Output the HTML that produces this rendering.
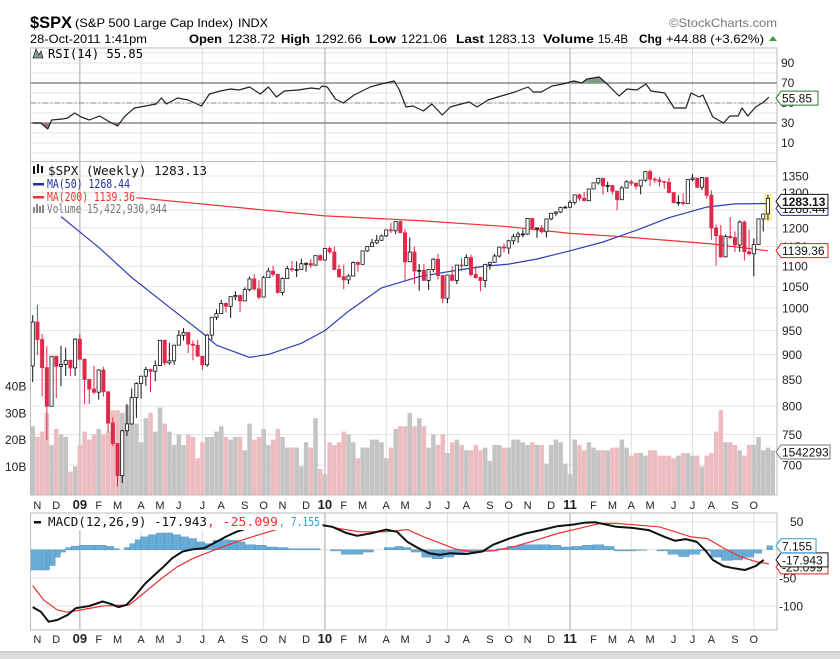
<!DOCTYPE html>
<html><head><meta charset="utf-8"><style>
body{margin:0;background:#fff;}
svg{display:block;font-family:"Liberation Sans",sans-serif;}
.ax{font-size:12px;fill:#222;}
.lg{font-family:"DejaVu Sans Mono","Liberation Mono",monospace;font-size:12px;}
</style></head><body>
<svg id="chart" width="840" height="659" viewBox="0 0 840 659" xmlns="http://www.w3.org/2000/svg">
<rect x="0" y="0" width="840" height="659" fill="#fff"/>
<g>
<text x="30" y="28" font-size="17" font-weight="bold" textLength="42" lengthAdjust="spacingAndGlyphs">$SPX</text>
<text x="75" y="27" font-size="12" textLength="158" lengthAdjust="spacingAndGlyphs">(S&amp;P 500 Large Cap Index)</text>
<text x="238" y="27" font-size="12" textLength="30" lengthAdjust="spacingAndGlyphs">INDX</text>
<text x="669" y="27" font-size="12" fill="#777" textLength="108" lengthAdjust="spacingAndGlyphs">©StockCharts.com</text>
<text x="30" y="43" font-size="12" textLength="117" lengthAdjust="spacingAndGlyphs">28-Oct-2011 1:41pm</text>
<text x="189" y="43" font-size="12" font-weight="bold" textLength="33" lengthAdjust="spacingAndGlyphs">Open</text>
<text x="228" y="43" font-size="12" textLength="47" lengthAdjust="spacingAndGlyphs">1238.72</text>
<text x="281" y="43" font-size="12" font-weight="bold" textLength="29" lengthAdjust="spacingAndGlyphs">High</text>
<text x="315" y="43" font-size="12" textLength="47" lengthAdjust="spacingAndGlyphs">1292.66</text>
<text x="369" y="43" font-size="12" font-weight="bold" textLength="27" lengthAdjust="spacingAndGlyphs">Low</text>
<text x="401" y="43" font-size="12" textLength="46" lengthAdjust="spacingAndGlyphs">1221.06</text>
<text x="456" y="43" font-size="12" font-weight="bold" textLength="28" lengthAdjust="spacingAndGlyphs">Last</text>
<text x="488" y="43" font-size="12" textLength="47" lengthAdjust="spacingAndGlyphs">1283.13</text>
<text x="543" y="43" font-size="12" font-weight="bold" textLength="51" lengthAdjust="spacingAndGlyphs">Volume</text>
<text x="598" y="43" font-size="12" textLength="30" lengthAdjust="spacingAndGlyphs">15.4B</text>
<text x="639" y="43" font-size="12" font-weight="bold" textLength="23" lengthAdjust="spacingAndGlyphs">Chg</text>
<text x="666" y="43" font-size="12" textLength="98" lengthAdjust="spacingAndGlyphs">+44.88 (+3.62%)</text>
<polygon points="769,41 777,41 773,36" fill="#3a9a3a"/>
</g>
<g id="grid"></g>
<g id="marks"></g>
<g id="over"></g>
</svg>
<script>
// ---- data ----
const opens=[876.8,968.8,931,873.3,800,896.2,876.1,879.7,887.9,872.8,931.8,890.4,850.1,832,825.9,868.6,826.8,770,735.1,683.4,756.6,768.5,815.9,842.5,856.6,869.6,866.2,877.5,929.2,882.9,887,919.1,940.1,946.2,921.2,918.9,896.4,879.1,940.4,979.3,987.5,1010.5,1004.1,1026.1,1028.9,1016.4,1042.7,1068.3,1044.4,1025.2,1071.5,1087.7,1079.6,1036.2,1069.3,1093.5,1091.4,1091.5,1106,1106.4,1102.5,1126.5,1115.1,1145,1136,1091.8,1073.9,1066.2,1075.5,1109.2,1104.5,1138.7,1150,1159.9,1166.6,1178.1,1194.4,1192.1,1217.3,1186.7,1110.9,1135.7,1087.7,1089.4,1064.9,1091.6,1117.5,1076.8,1022.6,1078,1064.9,1102.7,1101.6,1121.6,1079.3,1071.7,1064.6,1104.5,1109.6,1125.6,1148.7,1146.2,1165.2,1176.2,1183.1,1183.3,1225.9,1199.2,1199.7,1189.4,1224.7,1240.4,1243.9,1256.8,1257.6,1271.5,1293.2,1283.4,1276.3,1310.9,1329.2,1343,1319.9,1321.2,1304.3,1279.2,1313.8,1332.4,1328.2,1319.7,1337.4,1363.6,1340.2,1337.8,1333.3,1331.1,1300.2,1271,1271.5,1268.5,1339.7,1343.8,1316.1,1345,1292.3,1199.4,1178.8,1123.5,1176.8,1174,1154.2,1216,1136.4,1131.4,1155.5,1224.6,1238.7];
const closes=[968.75,930.99,873.29,800.03,896.24,876.07,879.73,887.88,872.8,931.8,890.35,850.12,831.95,825.88,868.6,826.84,770.05,735.09,683.38,756.55,768.54,815.94,842.5,856.56,869.6,866.23,877.52,929.23,882.88,887,919.14,940.09,946.21,921.23,918.9,896.42,879.13,940.38,979.26,987.48,1010.48,1004.09,1026.13,1028.93,1016.4,1042.73,1068.3,1044.38,1025.21,1071.49,1087.68,1079.6,1036.19,1069.3,1093.48,1091.38,1091.49,1105.98,1106.41,1102.47,1126.48,1115.1,1144.98,1136.03,1091.76,1073.87,1066.19,1075.51,1109.17,1104.49,1138.7,1149.99,1159.9,1166.59,1178.1,1194.37,1192.13,1217.28,1186.69,1110.88,1135.68,1087.69,1089.41,1064.88,1091.6,1117.51,1076.76,1022.58,1077.96,1064.88,1102.66,1101.6,1121.64,1079.25,1071.69,1064.59,1104.51,1109.55,1125.59,1148.67,1146.24,1165.15,1176.19,1183.08,1183.26,1225.85,1199.21,1199.73,1189.4,1224.71,1240.4,1243.91,1256.77,1257.64,1271.5,1293.24,1283.35,1276.34,1310.87,1329.15,1343.01,1319.88,1321.15,1304.28,1279.2,1313.8,1332.41,1328.17,1319.68,1337.38,1363.61,1340.2,1337.77,1333.27,1331.1,1300.16,1270.98,1271.5,1268.45,1339.67,1343.8,1316.14,1345.02,1292.28,1199.38,1178.81,1123.53,1176.8,1173.97,1154.23,1216.01,1136.43,1131.42,1155.46,1224.58,1238.25,1283.13];
const highs=[984,1007,943,917,896,897,918,914,890,934,943,890,851,877,870,875,827,780,735,758,804,833,845,857,875,871,888,930,931,924,920,951,956,946,929,931,896,943,980,997,1019,1013,1027,1039,1031,1048,1074,1080,1065,1076,1096,1101,1081,1072,1101,1113,1112,1119,1110,1118,1127,1130,1145,1150,1150,1104,1104,1080,1112,1112,1139,1150,1170,1181,1182,1195,1213,1218,1219,1197,1174,1150,1105,1105,1092,1120,1131,1078,1078,1100,1103,1120,1130,1129,1100,1074,1105,1110,1131,1149,1158,1168,1184,1190,1196,1227,1227,1200,1208,1225,1240,1246,1259,1262,1278,1294,1297,1302,1311,1330,1344,1340,1333,1322,1304,1320,1337,1339,1329,1338,1364,1371,1346,1347,1334,1345,1300,1292,1298,1341,1356,1344,1347,1347,1307,1209,1208,1182,1230,1190,1220,1220,1195,1171,1225,1234,1293];
const lows=[845,899,818,741,800,815,837,857,857,857,888,804,804,822,812,818,754,731,667,672,748,767,779,814,838,826,847,878,878,879,879,919,929,903,888,895,869,875,930,973,987,990,978,1018,991,1016,1039,1041,1020,1025,1071,1074,1033,1029,1069,1086,1073,1091,1086,1095,1102,1114,1115,1131,1090,1071,1044,1056,1076,1086,1104,1136,1150,1156,1165,1175,1186,1183,1186,1065,1111,1056,1040,1064,1042,1085,1067,1011,1011,1063,1056,1088,1102,1074,1069,1039,1048,1091,1108,1122,1135,1131,1155,1160,1174,1181,1194,1173,1185,1174,1221,1232,1241,1254,1256,1265,1276,1275,1276,1311,1324,1294,1302,1294,1249,1279,1314,1320,1309,1295,1332,1319,1329,1318,1311,1298,1268,1262,1262,1268,1334,1313,1307,1283,1168,1101,1121,1122,1170,1136,1136,1114,1127,1075,1154,1190,1221];
const volumes=[25,21,23,30,18,24,22,21,8,10,18,23,20,22,24,22,23,31,31,30,33,29,26,19,28,30,23,32,26,23,18,22,18,22,21,13,19,21,21,23,25,21,20,21,21,16,26,20,21,24,18,20,24,21,17,17,17,10,19,17,28,9,7,19,18,19,23,22,19,13,17,17,20,20,19,13,17,24,25,25,30,25,28,25,17,22,18,22,15,19,20,18,16,16,18,16,17,12,18,18,17,17,20,20,19,18,19,18,18,11,18,20,19,11,7,20,18,16,19,17,16,16,16,17,17,20,17,14,15,15,14,16,16,14,14,14,13,14,15,15,14,14,10,14,15,23,31,19,19,18,16,14,18,18,21,16,17,16];
const ma50Week=[6,14,21,29,36,39,46,50,57,62,67,74,82,89,96,101,107,114,121,128,135,143,149,156];
const ma50Val=[1231,1148,1072,1002,945,919,894,900,923,950,993,1047,1074,1088,1100,1105,1118,1139,1162,1193,1228,1258,1267,1268];
const ma200Week=[22,62,82,101,114,125,144,156];
const ma200Val=[1285,1233,1220,1203,1185,1176,1157,1139];
const rsiWeek=[0,1.7,3.2,4,6.3,7.4,8.9,10.3,12,14.2,16,18,19.6,21.6,23.9,26.2,27.3,28.4,30.7,33,35.8,37.5,39.8,42,43.8,46,48.3,50,51.7,53.4,56.3,59.1,60.8,61.4,62.5,64.2,65.9,68.2,71.6,73.9,76.7,77.8,79.2,80.7,82.9,84.7,86.9,88.6,90.9,92.6,94.3,96.6,99.4,102.3,105.1,106.2,107.9,110.2,112.5,114.8,116.5,117.6,120.2,122.1,124.4,126.1,128.2,130.1,131.2,134.1,136.1,138.6,139.7,141.4,142.2,144.3,146.6,147.9,149.7,150.5,151.7,153.4,155.1,156.2];
const rsiVal=[30,30,24,33,34,35,40,36,33,37,32,27,37,45,47,49,55,49,55,53,47,59,62,64,63,66,59,66,56,62,63,65,64,67,66,54,50,58,66,69,72,63,46,47,42,49,38,46,49,51,46,53,57,61,66,61,61,67,69,72,70,74,76,68,57,64,63,69,62,60,45,45,60,56,58,36,30,37,37,45,37,46,51,55.85];
const macdWeek=[0,1.7,3.4,5.2,7.4,9.1,12,14.8,16.5,18.2,19.9,21.6,23.9,26.2,27.9,29.6,31.8,34.1,36.4,38.7,40.9,43.2,45.5,50,55.7,61.4,63.6,66.5,68.8,71.6,75,77.3,79.5,81.8,84.1,86.4,88.6,92,95.4,97.7,101.1,104.5,107.9,111.3,114.8,117,119.3,121.6,123.8,127.2,130.7,134.1,136.3,138.6,140.9,142.6,144.3,146.6,148.8,151.1,153.4,155.1,156.2];
const macdVal=[-102,-110,-128,-125,-116,-104,-100,-92,-96,-102,-98,-83,-60,-42,-29,-15,-3,1,3,13,23,32,38,45,47,44,41,30,25,29,36,32,14,3,-6,-9,-6,-7.5,-3,9,20,29,35,42,45,48,49,45,41,39,35,23,16,19,14,0,-18,-29,-33,-36,-29,-17.9];
const sigWeek=[0,2.3,5.2,7.4,10.3,14.8,20.5,23.9,27.3,30.7,34.1,38.7,43.2,47.7,51.7,56,61.4,64.8,69.3,75,79.5,83,86.4,89.8,93.2,97.7,102.3,106.8,111.3,115.9,120.4,123.8,128.4,132.9,136.3,139.7,143.2,146.6,150,153.4,156.2];
const sigVal=[-64,-89,-107,-111,-107,-100,-98,-75,-51,-30,-15,0,14,26,36,42,44,38,32,32,36,23,12,1,-3,-2,6,17,29,38,47,47,44,41,32,23,20,3,-12,-21,-25.1];
const histWeek=[0,3.4,4,5.2,6.3,7.4,8.6,10.3,13.7,16,17.6,18.8,19.9,21,22.2,23.3,25,26.7,28.4,30.1,31.8,33.5,35.2,36.9,38.7,40.4,42.1,43.8,45.5,47.7,50,52.3,54.6,59.1,61.4,63.6,65.9,68.2,70.5,72.7,75,77.3,79,80.7,83,85.2,87.5,89.8,92,94.3,96.6,98.9,101.1,103.4,107.9,110.2,112.5,114.8,117,119.3,121.6,123.8,128.4,130.7,132.9,135.2,137.5,139.7,142,144.3,146.6,148.8,151.1,153.4,155.1,156.2];
const histVal=[-36,-36,-28,-13,-4,4,6.5,8,8,6,2,0,4,11,18,23,27,30,30,27,23,20,14,11,17,18,17,14,9,8,5,4,2,2,0,-2,-8,-8,-4,0,4,6,4,-4,-13,-16,-13,-9,-4,-3,-2,2,6,9,9,8,5,6,8,9,6,-2,-1,0,-2,-8,-12,-8,-2,-13,-19,-18,-13,-6,0,7.155];
const priceTicks=[1350,1300,1250,1200,1150,1100,1050,1000,950,900,850,800,750,700];
const volTicks=[10,20,30,40];
const volTickLabels=["10B","20B","30B","40B"];
const rsiTicks=[90,70,50,30,10];
const macdTicks=[50,0,-50,-100];
const monthLetters=["J","F","M","A","M","J","J","A","S","O","N","D"];

// ---- scales ----
const L=30.5,R=777;
const X0=32.7,STEP=4.713;
const xOf=i=>X0+i*STEP;
const yP=p=>465-(Math.log(p)-Math.log(700))*440;
const yV=v=>493-v*2.67;
const yR=v=>153-v;
const yM=v=>549.8-v*0.562;
const NS='http://www.w3.org/2000/svg';
function mk(tag,attrs,parent){const e=document.createElementNS(NS,tag);for(const k in attrs)e.setAttribute(k,attrs[k]);parent.appendChild(e);return e;}
const grid=document.getElementById('grid'),marks=document.getElementById('marks'),over=document.getElementById('over');

// panels
const panels=[[48,161.5,'rsi-panel'],[161.5,495,'price-panel'],[513,630,'macd-panel']];
// horizontal grid
for(let v=0;v<=100;v+=10){const l=mk('line',{x1:L,x2:R,y1:yR(v),y2:yR(v),stroke:'#e6e6e6'},grid);}
priceTicks.forEach(p=>{const l=mk('line',{x1:L,x2:R,y1:yP(p),y2:yP(p),stroke:'#e3e3e3'},grid);});
[50,0,-50,-100].forEach(v=>{const l=mk('line',{x1:L,x2:R,y1:yM(v),y2:yM(v),stroke:'#e3e3e3'},grid);});
// months
const base=new Date(2008,9,31);
let prevM=9;const monthMarks=[];
for(let i=0;i<closes.length;i++){const d=new Date(base.getTime()+(i*7-4)*86400000);const m=d.getMonth();if(m!==prevM){monthMarks.push([i,m,d.getFullYear()]);prevM=m;}}
monthMarks.forEach(([i,m,yr])=>{
  const x=xOf(i);
  if(m%3===0){[[48,495],[513,630]].forEach(([a,b])=>{const l=mk('line',{x1:x,x2:x,y1:a,y2:b,stroke:m===0?'#c4c4c4':'#dedede','stroke-width':m===0?1.5:1},grid);});}
  const lab=m===0?String(yr).slice(2):monthLetters[m];
  [509,643].forEach(y=>{const t=mk('text',{x:x,y:y,'text-anchor':'middle','font-size':m===0?13:11,'font-weight':m===0?'bold':'normal',fill:'#222'},grid);t.textContent=lab;});
});
// RSI special lines
[70,30].forEach(v=>{const l=mk('line',{x1:L,x2:R,y1:yR(v),y2:yR(v),stroke:'#888','stroke-width':1.5},grid);});
{const l=mk('line',{x1:L,x2:R,y1:yR(50),y2:yR(50),stroke:'#888','stroke-dasharray':'6,2,2,2'},grid);}

// volume bars
volumes.forEach((v,i)=>{const down=closes[i]<(i?closes[i-1]:876.77);const r=mk('rect',{x:xOf(i)-2.2,y:yV(v),width:4.5,height:495-yV(v),fill:down?'#ecbcc0':'#c4c4c4'},marks);});

// MAs
function poly(wk,vals,ys,color,name,w){const pts=wk.map((w2,k)=>xOf(w2).toFixed(1)+','+ys(vals[k]).toFixed(1)).join(' ');const p=mk('polyline',{points:pts,fill:'none',stroke:color,'stroke-width':w||1.2,'stroke-linejoin':'round'},marks);return p;}
poly(ma200Week,ma200Val,yP,'#f03030','ma200-line',1.2);
poly(ma50Week,ma50Val,yP,'#3040b0','ma50-line',1.2);

// candles
closes.forEach((c,i)=>{
  const o=opens[i],pc=i?closes[i-1]:876.77;const red=c<pc;const col=red?'#e0284a':'#111';const x=xOf(i);
  const w=mk('line',{x1:x,x2:x,y1:yP(highs[i]),y2:yP(lows[i]),stroke:col,'stroke-width':1},marks);
  const top=yP(Math.max(o,c)),bot=yP(Math.min(o,c));
  const b=mk('rect',{x:x-1.6,y:top,width:3.2,height:Math.max(bot-top,0.8),fill:c<o?col:'#fff',stroke:col,'stroke-width':0.8},marks);
});

// RSI fills and line
{const pts=rsiWeek.map((w2,k)=>[xOf(w2),yR(rsiVal[k])]);
 const cp=mk('clipPath',{id:'above70'},marks);mk('rect',{x:L,y:48,width:R-L,height:yR(70)-48},cp);
 const cp2=mk('clipPath',{id:'below30'},marks);mk('rect',{x:L,y:yR(30),width:R-L,height:160-yR(30)},cp2);
 const d='M'+pts.map(p=>p[0].toFixed(1)+','+p[1].toFixed(1)).join(' L');
 const a=mk('path',{d:d+' L'+pts[pts.length-1][0]+','+yR(70)+' L'+pts[0][0]+','+yR(70)+'Z',fill:'#7f9c8a','clip-path':'url(#above70)'},marks);
 const b=mk('path',{d:d+' L'+pts[pts.length-1][0]+','+yR(30)+' L'+pts[0][0]+','+yR(30)+'Z',fill:'#a07a7a','clip-path':'url(#below30)'},marks);
 poly(rsiWeek,rsiVal,yR,'#222','rsi-line',1.2);}

// MACD histogram
histWeek.forEach((w2,k)=>{const nx=k<histWeek.length-1?histWeek[k+1]:w2+1.2;const v=histVal[k];const y0=yM(0),y1=yM(v);const r=mk('rect',{x:xOf(w2)-2,y:Math.min(y0,y1),width:Math.max(xOf(nx)-xOf(w2),1),height:Math.abs(y1-y0),fill:'#69acd6',stroke:'#4a8cbc','stroke-width':0.4},marks);});
poly(sigWeek,sigVal,yM,'#f03030','macd-signal-line',1.2);
poly(macdWeek,macdVal,yM,'#111','macd-line',2);

// highlight last candle
{const i=closes.length-1;const r=mk('rect',{x:xOf(i)-4,y:yP(highs[i])-1,width:8,height:yP(lows[i])-yP(highs[i])+2,fill:'#f4ee60','fill-opacity':0.6},marks);marks.insertBefore(r,marks.firstChild);}

// panel frames
panels.forEach(([a,b,n])=>{const r=mk('rect',{x:L,y:a,width:R-L,height:b-a,fill:'none',stroke:'#bbb'},over);});

// axis labels
rsiTicks.forEach(v=>{const t=mk('text',{x:781,y:yR(v)+4,class:'ax'},over);t.textContent=v;});
priceTicks.forEach(p=>{const t=mk('text',{x:782,y:yP(p)+4.5,class:'ax'},over);t.textContent=p;});
volTicks.forEach((v,k)=>{const t=mk('text',{x:5,y:yV(v)+4.5,class:'ax'},over);t.textContent=volTickLabels[k];});
macdTicks.forEach(v=>{const t=mk('text',{x:v<0?779:790,y:yM(v)+4.5,class:'ax'},over);t.textContent=v;});

// value tags
function tag(y,txt,color,name,bold,w){const g=mk('g',{},over);
 mk('polygon',{points:`776,${y} 781,${y-7} ${776+w},${y-7} ${776+w},${y+7} 781,${y+7}`,fill:'#fff',stroke:color,'stroke-width':1},g);
 const t=mk('text',{x:782,y:y+4.5,'font-size':12,'font-weight':bold?'bold':'normal',fill:'#111'},g);t.textContent=txt;}
tag(yP(1268.44)+5,'1268.44','#2030a0','ma50-value-tag',false,52);
tag(yP(1283.13)+3,'1283.13','#111','last-price-tag',true,52);
tag(yP(1139.36),'1139.36','#e02020','ma200-value-tag',false,52);
tag(452,'1542293','#777','volume-value-tag',false,54);
tag(yR(55.85)+1,'55.85','#2a7a2a','rsi-value-tag',false,42);
tag(yM(-25.1)+3,'-25.099','#e02020','signal-value-tag',false,52);
tag(yM(-17.943),'-17.943','#111','macd-value-tag',false,52);
tag(yM(7.155),'7.155','#30a0d0','histogram-value-tag',false,40);
</script>
<svg style="position:absolute;left:0;top:0" width="840" height="659" xmlns="http://www.w3.org/2000/svg">
<g class="lg">
<polygon points="33,58 36,49 39,55 41,51 43,58" fill="#7f9c8a" stroke="#333" stroke-width="0.8"/>
<text x="48" y="58" font-size="12" textLength="95" lengthAdjust="spacingAndGlyphs" font-family="DejaVu Sans Mono,monospace">RSI(14) 55.85</text>
</g>
<g font-family="DejaVu Sans Mono,monospace" font-size="12">
<rect x="33" y="166" width="2" height="8" fill="#111"/><rect x="37" y="164" width="2" height="9" fill="#111"/><rect x="41" y="166" width="2" height="7" fill="#111"/>
<text x="48" y="175" textLength="159" lengthAdjust="spacingAndGlyphs" fill="#111">$SPX (Weekly) 1283.13</text>
<rect x="33" y="183" width="11" height="2.5" fill="#2030a0"/>
<text x="47" y="188" textLength="83" lengthAdjust="spacingAndGlyphs" fill="#2030a0">MA(50) 1268.44</text>
<rect x="33" y="196" width="11" height="2.5" fill="#f03030"/>
<text x="47" y="201" textLength="88" lengthAdjust="spacingAndGlyphs" fill="#f03030">MA(200) 1139.36</text>
<rect x="33" y="207" width="2" height="6" fill="#888"/><rect x="36" y="204" width="2" height="9" fill="#888"/><rect x="39" y="206" width="2" height="7" fill="#888"/><rect x="42" y="205" width="2" height="8" fill="#888"/>
<text x="47" y="213" textLength="120" lengthAdjust="spacingAndGlyphs" fill="#777">Volume 15,422,930,944</text>
</g>
<g font-family="DejaVu Sans Mono,monospace" font-size="12">
<rect x="31.5" y="514" width="291" height="16" fill="#fff"/>
<rect x="34" y="521" width="7" height="2.5" fill="#111"/>
<text x="48" y="526" textLength="159" lengthAdjust="spacingAndGlyphs" fill="#111">MACD(12,26,9) -17.943</text>
<text x="207" y="526" textLength="71" lengthAdjust="spacingAndGlyphs" fill="#f03030">, -25.099</text>
<text x="279" y="526" textLength="41" lengthAdjust="spacingAndGlyphs" fill="#30a0d0">, 7.155</text>
</g>
<rect x="0" y="651" width="840" height="8" fill="#dcdcdc"/>
<rect x="0" y="651" width="840" height="1.5" fill="#c8c8c8"/>
</svg>
</body></html>
